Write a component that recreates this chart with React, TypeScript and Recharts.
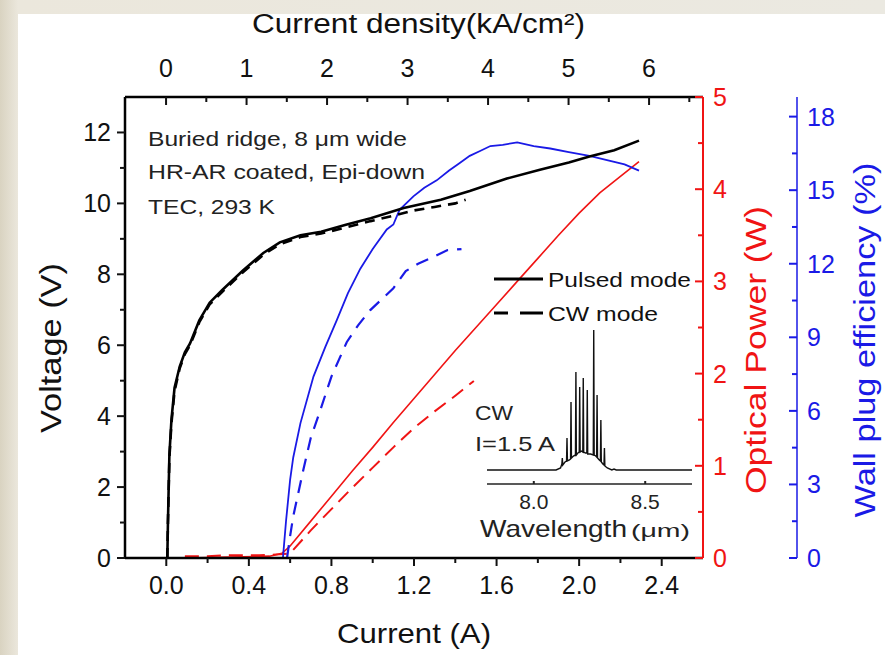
import { Line, LineChart, XAxis, YAxis } from "recharts";

// current (A) vs value
const pulsedVoltage = [
  [0.005, 0], [0.008, 1.0], [0.015, 2.9], [0.025, 3.9], [0.04, 4.8], [0.065, 5.4],
  [0.09, 5.8], [0.115, 6.05], [0.16, 6.7], [0.21, 7.2], [0.27, 7.55], [0.37, 8.1],
  [0.47, 8.6], [0.55, 8.9], [0.65, 9.1], [0.75, 9.2], [0.87, 9.4], [0.99, 9.58],
  [1.15, 9.87], [1.33, 10.1], [1.47, 10.35], [1.65, 10.7], [1.81, 10.95], [1.95, 11.15],
  [2.05, 11.32], [2.17, 11.5], [2.29, 11.77],
];
const cwVoltage = [
  [0.005, 0], [0.008, 1.0], [0.015, 2.8], [0.025, 3.8], [0.04, 4.7], [0.065, 5.35],
  [0.09, 5.75], [0.115, 6.0], [0.16, 6.65], [0.21, 7.15], [0.27, 7.5], [0.37, 8.05],
  [0.47, 8.55], [0.55, 8.85], [0.65, 9.05], [0.75, 9.15], [0.87, 9.32], [0.99, 9.5],
  [1.1, 9.65], [1.2, 9.8], [1.3, 9.9], [1.4, 10.0], [1.45, 10.1],
];
const pulsedPower = [
  [0.1, 0], [0.3, 0.01], [0.5, 0.02], [0.56, 0.05], [0.6, 0.13], [0.7, 0.4], [0.8, 0.67],
  [0.9, 0.94], [1.0, 1.2], [1.1, 1.47], [1.2, 1.73], [1.3, 1.99], [1.4, 2.25], [1.5, 2.5],
  [1.6, 2.75], [1.7, 3.0], [1.8, 3.25], [1.9, 3.5], [2.0, 3.74], [2.1, 3.96], [2.2, 4.14],
  [2.29, 4.3],
];
const cwPower = [
  [0.09, 0.02], [0.2, 0.02], [0.3, 0.03], [0.45, 0.03], [0.55, 0.04], [0.6, 0.05],
  [0.7, 0.3], [0.8, 0.53], [0.9, 0.76], [1.0, 0.98], [1.1, 1.2], [1.2, 1.41], [1.3, 1.59],
  [1.4, 1.76], [1.49, 1.92],
];
const pulsedWpe = [
  [0.565, 0], [0.58, 1.5], [0.6, 3.2], [0.615, 4.1], [0.65, 5.5], [0.713, 7.4], [0.77, 8.6],
  [0.826, 9.7], [0.88, 10.8], [0.94, 11.8], [1.0, 12.6], [1.068, 13.4], [1.1, 13.6],
  [1.13, 14.2], [1.197, 14.75], [1.25, 15.1], [1.31, 15.4], [1.37, 15.8], [1.42, 16.1],
  [1.47, 16.4], [1.52, 16.6], [1.57, 16.8], [1.63, 16.85], [1.7, 16.95], [1.78, 16.8],
  [1.86, 16.7], [1.95, 16.55], [2.05, 16.4], [2.15, 16.2], [2.22, 16.05], [2.29, 15.8],
];
const cwWpe = [
  [0.585, 0], [0.6, 0.9], [0.615, 1.7], [0.664, 3.6], [0.7, 4.9], [0.745, 6.0], [0.8, 7.4],
  [0.874, 8.8], [0.93, 9.5], [0.987, 10.1], [1.05, 10.6], [1.1, 11.0], [1.16, 11.7],
  [1.22, 12.0], [1.3, 12.3], [1.36, 12.55], [1.43, 12.6],
];
// inset: wavelength (um) vs intensity (arb.)
const spectrum = [
  [7.79, 0], [8.1, 0], [8.12, 2], [8.126, 6], [8.128, 12], [8.13, 5], [8.14, 8], [8.147, 9],
  [8.149, 32], [8.151, 9], [8.16, 10], [8.165, 11], [8.167, 68], [8.169, 12], [8.178, 14],
  [8.187, 15], [8.189, 98], [8.191, 15], [8.198, 17], [8.204, 18], [8.206, 83], [8.208, 18],
  [8.214, 19], [8.22, 18], [8.222, 92], [8.224, 18], [8.232, 17], [8.238, 17], [8.24, 80],
  [8.242, 16], [8.255, 16], [8.267, 15], [8.269, 140], [8.271, 15], [8.278, 14], [8.282, 13],
  [8.284, 75], [8.286, 12], [8.294, 10], [8.299, 9], [8.301, 50], [8.303, 8], [8.31, 6],
  [8.315, 5], [8.317, 22], [8.319, 4], [8.33, 2], [8.35, 0], [8.36, 1], [8.37, 0], [8.71, 0],
];

const currentTicks = [0, 0.2, 0.4, 0.6, 0.8, 1.0, 1.2, 1.4, 1.6, 1.8, 2.0, 2.2, 2.4];
const densityTicks = [0, 0.5, 1, 1.5, 2, 2.5, 3, 3.5, 4, 4.5, 5, 5.5, 6, 6.5];
const voltageTicks = [0, 1, 2, 3, 4, 5, 6, 7, 8, 9, 10, 11, 12];
const powerTicks = [0, 0.5, 1, 1.5, 2, 2.5, 3, 3.5, 4, 4.5, 5];
const wpeTicks = [0, 1.5, 3, 4.5, 6, 7.5, 9, 10.5, 12, 13.5, 15, 16.5, 18];
const wavelengthTicks = [8.0, 8.5];

const FONT = '"Liberation Sans", Arial, sans-serif';
const RED = "#f01414";
const BLUE = "#1a1ae6";

const pts = (arr: number[][]) => arr.map(([i, y]) => ({ i, y }));

type Side = "left" | "right" | "top" | "bottom";
const dirs: Record<Side, [number, number]> = {
  left: [-1, 0],
  right: [1, 0],
  top: [0, -1],
  bottom: [0, 1],
};

const makeTick =
  (
    side: Side,
    color: string,
    step: number,
    fmt: (v: number) => string,
    out: number,
    gap: number,
    fontSize = 25,
    major = 8,
    minor = 5
  ) =>
  (props: any) => {
    const { x, y, payload } = props;
    const v = payload.value;
    const isMajor = Math.abs(v / step - Math.round(v / step)) < 1e-6;
    const [ux, uy] = dirs[side];
    const len = (isMajor ? major : minor) * out;
    const anchor = side === "left" ? "end" : side === "right" ? "start" : "middle";
    return (
      <g>
        <line x1={x} y1={y} x2={x + ux * len} y2={y + uy * len} stroke={color} strokeWidth={2} />
        {isMajor && (
          <text
            x={x + ux * gap}
            y={y + uy * gap}
            textAnchor={anchor}
            dominantBaseline="central"
            fill={color}
            fontSize={fontSize}
            fontFamily={FONT}
          >
            {fmt(v)}
          </text>
        )}
      </g>
    );
  };

const App = () => (
  <div
    style={{
      position: "absolute",
      left: 0,
      top: 0,
      width: 885,
      height: 655,
      background: "linear-gradient(90deg, #d9d3c1 0px, #ebe7dc 18px, #ebe9e1 100%)",
      overflow: "hidden",
    }}
  >
    <div style={{ position: "absolute", left: 18, top: 14, width: 867, height: 641, background: "#fff" }} />
    <div style={{ position: "absolute", left: 0, top: 0 }}>
      <LineChart width={885} height={655} margin={{ top: 0, right: 0, bottom: 0, left: 0 }}>
        <XAxis
          xAxisId="cur"
          type="number"
          dataKey="i"
          domain={[-0.2, 2.6]}
          allowDataOverflow
          ticks={currentTicks}
          interval={0}
          height={97}
          tickSize={0}
          tickMargin={0}
          tickLine={false}
          axisLine={{ stroke: "#000", strokeWidth: 2.5 }}
          tick={makeTick("bottom", "#111", 0.4, (v) => v.toFixed(1), 1, 27)}
        />
        <XAxis
          xAxisId="den"
          orientation="top"
          type="number"
          dataKey="i"
          domain={[-0.51, 6.67]}
          allowDataOverflow
          ticks={densityTicks}
          interval={0}
          height={97}
          tickSize={0}
          tickMargin={0}
          tickLine={false}
          axisLine={{ stroke: "#000", strokeWidth: 2.5 }}
          tick={makeTick("top", "#111", 1, (v) => String(v), -1, 29)}
        />
        <YAxis
          yAxisId="v"
          type="number"
          domain={[0, 13]}
          allowDataOverflow
          ticks={voltageTicks}
          interval={0}
          width={125}
          tickSize={0}
          tickMargin={0}
          tickLine={false}
          axisLine={{ stroke: "#000", strokeWidth: 2.5 }}
          tick={makeTick("left", "#111", 2, (v) => String(v), 1, 14)}
        />
        <YAxis
          yAxisId="p"
          orientation="right"
          type="number"
          domain={[0, 5]}
          allowDataOverflow
          ticks={powerTicks}
          interval={0}
          width={94}
          tickSize={0}
          tickMargin={0}
          tickLine={false}
          axisLine={{ stroke: RED, strokeWidth: 2 }}
          tick={makeTick("right", RED, 1, (v) => String(v), -1, 10)}
        />
        <YAxis
          yAxisId="w"
          orientation="right"
          type="number"
          domain={[0, 18.8]}
          allowDataOverflow
          ticks={wpeTicks}
          interval={0}
          width={88}
          tickSize={0}
          tickMargin={0}
          tickLine={false}
          axisLine={{ stroke: BLUE, strokeWidth: 1.5 }}
          tick={makeTick("right", BLUE, 3, (v) => String(v), -1, 10)}
        />
        <Line xAxisId="cur" yAxisId="p" data={pts(cwPower)} dataKey="y" type="linear" stroke={RED}
          strokeWidth={2} strokeDasharray="14 8" dot={false} isAnimationActive={false} />
        <Line xAxisId="cur" yAxisId="p" data={pts(pulsedPower)} dataKey="y" type="linear" stroke={RED}
          strokeWidth={1.6} dot={false} isAnimationActive={false} />
        <Line xAxisId="cur" yAxisId="w" data={pts(cwWpe)} dataKey="y" type="linear" stroke={BLUE}
          strokeWidth={2.2} strokeDasharray="13 9" dot={false} isAnimationActive={false} />
        <Line xAxisId="cur" yAxisId="w" data={pts(pulsedWpe)} dataKey="y" type="linear" stroke={BLUE}
          strokeWidth={1.8} dot={false} isAnimationActive={false} />
        <Line xAxisId="cur" yAxisId="v" data={pts(cwVoltage)} dataKey="y" type="linear" stroke="#000"
          strokeWidth={2.6} strokeDasharray="10 7" dot={false} isAnimationActive={false} />
        <Line xAxisId="cur" yAxisId="v" data={pts(pulsedVoltage)} dataKey="y" type="linear" stroke="#000"
          strokeWidth={2.6} dot={false} isAnimationActive={false} />
      </LineChart>
    </div>

    {/* inset spectrum */}
    <div style={{ position: "absolute", left: 487, top: 325 }}>
      <LineChart width={205} height={209} margin={{ top: 0, right: 0, bottom: 0, left: 0 }}>
        <XAxis
          type="number"
          dataKey="i"
          domain={[7.79, 8.71]}
          allowDataOverflow
          ticks={wavelengthTicks}
          interval={0}
          height={50}
          tickSize={0}
          tickMargin={0}
          tickLine={false}
          axisLine={{ stroke: "#222", strokeWidth: 1.5 }}
          tick={makeTick("bottom", "#222", 0.5, (v) => v.toFixed(1), -1, 17, 21, 3, 3)}
        />
        <YAxis hide type="number" domain={[-14, 145]} allowDataOverflow />
        <Line data={pts(spectrum)} dataKey="y" type="linear" stroke="#111" strokeWidth={1.4}
          dot={false} isAnimationActive={false} />
      </LineChart>
    </div>

    <svg width={885} height={655} style={{ position: "absolute", left: 0, top: 0, pointerEvents: "none" }}
      fontFamily={FONT}>
      <text x={252} y={33} fontSize={27} fill="#111" textLength={333} lengthAdjust="spacingAndGlyphs">
        Current density(kA/cm²)
      </text>
      <text x={337} y={643} fontSize={28} fill="#111" textLength={154} lengthAdjust="spacingAndGlyphs">
        Current (A)
      </text>
      <text transform="translate(61,348) rotate(-90)" textAnchor="middle" fontSize={29} fill="#111"
        textLength={170} lengthAdjust="spacingAndGlyphs">
        Voltage (V)
      </text>
      <text transform="translate(766,350) rotate(-90)" textAnchor="middle" fontSize={29} fill={RED}
        textLength={288} lengthAdjust="spacingAndGlyphs">
        Optical Power (W)
      </text>
      <text transform="translate(875,340) rotate(-90)" textAnchor="middle" fontSize={29} fill={BLUE}
        textLength={355} lengthAdjust="spacingAndGlyphs">
        Wall plug efficiency (%)
      </text>

      <text x={148} y={146} fontSize={21} fill="#222" textLength={259} lengthAdjust="spacingAndGlyphs">
        Buried ridge, 8 μm wide
      </text>
      <text x={148} y={179} fontSize={21} fill="#222" textLength={277} lengthAdjust="spacingAndGlyphs">
        HR-AR coated, Epi-down
      </text>
      <text x={148} y={214} fontSize={21} fill="#222" textLength={127} lengthAdjust="spacingAndGlyphs">
        TEC, 293 K
      </text>

      <line x1={494} y1={279} x2={543} y2={279} stroke="#000" strokeWidth={3} />
      <text x={548} y={287} fontSize={21} fill="#111" textLength={143} lengthAdjust="spacingAndGlyphs">
        Pulsed mode
      </text>
      <line x1={494} y1={313} x2={508} y2={313} stroke="#000" strokeWidth={3} />
      <line x1={520} y1={313} x2={543} y2={313} stroke="#000" strokeWidth={3} />
      <text x={548} y={321} fontSize={21} fill="#111" textLength={110} lengthAdjust="spacingAndGlyphs">
        CW mode
      </text>

      <text x={475} y={420} fontSize={21} fill="#222" textLength={38} lengthAdjust="spacingAndGlyphs">
        CW
      </text>
      <text x={475} y={451} fontSize={21} fill="#222" textLength={80} lengthAdjust="spacingAndGlyphs">
        I=1.5 A
      </text>
      <text x={480} y={537} fontSize={24} fill="#222" textLength={147} lengthAdjust="spacingAndGlyphs">
        Wavelength
      </text>
      <text x={631} y={537} fontSize={19} fill="#222" textLength={59} lengthAdjust="spacingAndGlyphs">
        (μm)
      </text>
    </svg>
  </div>
);

export default App;
